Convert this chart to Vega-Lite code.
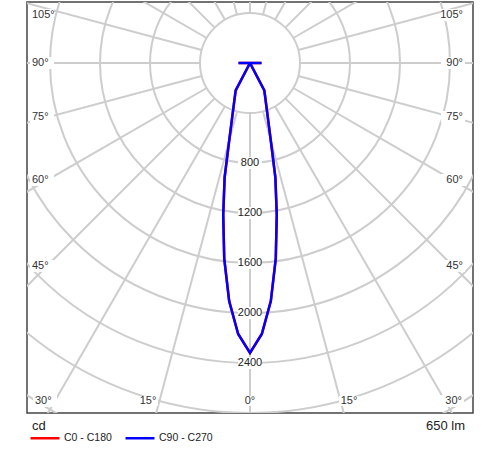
{
  "$schema": "https://vega.github.io/schema/vega-lite/v6.json",
  "width": 446,
  "height": 411,
  "autosize": {"type": "none"},
  "padding": {"left": 27, "top": 2, "right": 27, "bottom": 37},
  "background": "white",
  "config": {"view": {"stroke": "#444", "strokeWidth": 1.5}, "font": "Liberation Sans"},
  "datasets": {
    "circles": [{"cd": 400}, {"cd": 800}, {"cd": 1200}, {"cd": 1600}, {"cd": 2000}, {"cd": 2400}, {"cd": 2800}, {"cd": 3200}],
    "rays": [{"a": 0}, {"a": 15}, {"a": 30}, {"a": 45}, {"a": 60}, {"a": 75}, {"a": 90}, {"a": 105}, {"a": 120}, {"a": 135}, {"a": 150}, {"a": 165}, {"a": 180}, {"a": 195}, {"a": 210}, {"a": 225}, {"a": 240}, {"a": 255}, {"a": 270}, {"a": 285}, {"a": 300}, {"a": 315}, {"a": 330}, {"a": 345}],
    "cdLabels": [{"label": "800", "x": 0, "y": 800}, {"label": "1200", "x": 0, "y": 1200}, {"label": "1600", "x": 0, "y": 1600}, {"label": "2000", "x": 0, "y": 2000}, {"label": "2400", "x": 0, "y": 2400}],
    "leftLabels": [{"label": "105°", "x": -1744, "y": -384}, {"label": "90°", "x": -1744, "y": 0}, {"label": "75°", "x": -1744, "y": 432}, {"label": "60°", "x": -1744, "y": 936}, {"label": "45°", "x": -1744, "y": 1624}, {"label": "30°", "x": -1720, "y": 2704}],
    "rightLabels": [{"label": "105°", "x": 1704, "y": -384}, {"label": "90°", "x": 1704, "y": 0}, {"label": "75°", "x": 1704, "y": 432}, {"label": "60°", "x": 1704, "y": 936}, {"label": "45°", "x": 1704, "y": 1624}, {"label": "30°", "x": 1696, "y": 2704}],
    "bottomLabels": [{"label": "15°", "x": -816, "y": 2704}, {"label": "0°", "x": 0, "y": 2704}, {"label": "15°", "x": 792, "y": 2704}],
    "notesLeft": [{"label": "cd", "x": -1744, "y": 2904}],
    "notesRight": [{"label": "650 lm", "x": 1720, "y": 2904}],
    "curve": [
      {"series": "C0 - C180", "a": -180, "cd": 0}, {"series": "C0 - C180", "a": -95, "cd": 0}, {"series": "C0 - C180", "a": -90, "cd": 92}, {"series": "C0 - C180", "a": -85, "cd": 0}, {"series": "C0 - C180", "a": -30, "cd": 0}, {"series": "C0 - C180", "a": -27.5, "cd": 248}, {"series": "C0 - C180", "a": -25, "cd": 283}, {"series": "C0 - C180", "a": -20, "cd": 392}, {"series": "C0 - C180", "a": -15, "cd": 643}, {"series": "C0 - C180", "a": -12.5, "cd": 938}, {"series": "C0 - C180", "a": -10, "cd": 1233}, {"series": "C0 - C180", "a": -7.5, "cd": 1579}, {"series": "C0 - C180", "a": -5, "cd": 1912}, {"series": "C0 - C180", "a": -2.5, "cd": 2170}, {"series": "C0 - C180", "a": 0, "cd": 2320},
      {"series": "C0 - C180", "a": 2.5, "cd": 2170}, {"series": "C0 - C180", "a": 5, "cd": 1912}, {"series": "C0 - C180", "a": 7.5, "cd": 1579}, {"series": "C0 - C180", "a": 10, "cd": 1233}, {"series": "C0 - C180", "a": 12.5, "cd": 938}, {"series": "C0 - C180", "a": 15, "cd": 643}, {"series": "C0 - C180", "a": 20, "cd": 392}, {"series": "C0 - C180", "a": 25, "cd": 283}, {"series": "C0 - C180", "a": 27.5, "cd": 248}, {"series": "C0 - C180", "a": 30, "cd": 0}, {"series": "C0 - C180", "a": 85, "cd": 0}, {"series": "C0 - C180", "a": 90, "cd": 92}, {"series": "C0 - C180", "a": 95, "cd": 0}, {"series": "C0 - C180", "a": 180, "cd": 0},
      {"series": "C90 - C270", "a": -180, "cd": 0}, {"series": "C90 - C270", "a": -95, "cd": 0}, {"series": "C90 - C270", "a": -90, "cd": 92}, {"series": "C90 - C270", "a": -85, "cd": 0}, {"series": "C90 - C270", "a": -30, "cd": 0}, {"series": "C90 - C270", "a": -27.5, "cd": 248}, {"series": "C90 - C270", "a": -25, "cd": 283}, {"series": "C90 - C270", "a": -20, "cd": 392}, {"series": "C90 - C270", "a": -15, "cd": 643}, {"series": "C90 - C270", "a": -12.5, "cd": 938}, {"series": "C90 - C270", "a": -10, "cd": 1233}, {"series": "C90 - C270", "a": -7.5, "cd": 1579}, {"series": "C90 - C270", "a": -5, "cd": 1912}, {"series": "C90 - C270", "a": -2.5, "cd": 2170}, {"series": "C90 - C270", "a": 0, "cd": 2320},
      {"series": "C90 - C270", "a": 2.5, "cd": 2170}, {"series": "C90 - C270", "a": 5, "cd": 1912}, {"series": "C90 - C270", "a": 7.5, "cd": 1579}, {"series": "C90 - C270", "a": 10, "cd": 1233}, {"series": "C90 - C270", "a": 12.5, "cd": 938}, {"series": "C90 - C270", "a": 15, "cd": 643}, {"series": "C90 - C270", "a": 20, "cd": 392}, {"series": "C90 - C270", "a": 25, "cd": 283}, {"series": "C90 - C270", "a": 27.5, "cd": 248}, {"series": "C90 - C270", "a": 30, "cd": 0}, {"series": "C90 - C270", "a": 85, "cd": 0}, {"series": "C90 - C270", "a": 90, "cd": 92}, {"series": "C90 - C270", "a": 95, "cd": 0}, {"series": "C90 - C270", "a": 180, "cd": 0}
    ]
  },
  "encoding": {
    "x": {"field": "x", "type": "quantitative", "scale": {"domain": [-1784, 1784], "nice": false, "zero": false}, "axis": null},
    "y": {"field": "y", "type": "quantitative", "scale": {"domain": [-488, 2800], "nice": false, "zero": false, "reverse": true}, "axis": null}
  },
  "layer": [
    {
      "data": {"name": "circles"},
      "transform": [
        {"calculate": "0", "as": "x"},
        {"calculate": "0", "as": "y"},
        {"calculate": "pow(datum.cd / 4, 2)", "as": "s"}
      ],
      "mark": {"type": "point", "shape": "circle", "filled": false, "stroke": "#cdcdcd", "strokeWidth": 2, "opacity": 1, "clip": true},
      "encoding": {
        "size": {"field": "s", "type": "quantitative", "scale": null, "legend": null}
      }
    },
    {
      "data": {"name": "rays"},
      "transform": [
        {"calculate": "400 * sin(datum.a * PI / 180)", "as": "x"},
        {"calculate": "400 * cos(datum.a * PI / 180)", "as": "y"},
        {"calculate": "3600 * sin(datum.a * PI / 180)", "as": "x2"},
        {"calculate": "3600 * cos(datum.a * PI / 180)", "as": "y2"}
      ],
      "mark": {"type": "rule", "stroke": "#cdcdcd", "strokeWidth": 2, "clip": true},
      "encoding": {
        "x2": {"field": "x2"},
        "y2": {"field": "y2"}
      }
    },
    {
      "data": {"name": "cdLabels"},
      "mark": {"type": "point", "shape": "M-1,-0.5H1V0.5H-1Z", "filled": true, "fill": "white", "opacity": 1, "size": 576, "strokeWidth": 0},
      "encoding": {}
    },
    {
      "data": {"name": "leftLabels"},
      "mark": {"type": "point", "shape": "M-1,-0.5H1V0.5H-1Z", "filled": true, "fill": "white", "opacity": 1, "size": 576, "strokeWidth": 0, "xOffset": 10},
      "encoding": {}
    },
    {
      "data": {"name": "rightLabels"},
      "mark": {"type": "point", "shape": "M-1,-0.5H1V0.5H-1Z", "filled": true, "fill": "white", "opacity": 1, "size": 576, "strokeWidth": 0, "xOffset": -10},
      "encoding": {}
    },
    {
      "data": {"name": "bottomLabels"},
      "mark": {"type": "point", "shape": "M-1,-0.5H1V0.5H-1Z", "filled": true, "fill": "white", "opacity": 1, "size": 400, "strokeWidth": 0},
      "encoding": {}
    },
    {
      "data": {"name": "cdLabels"},
      "mark": {"type": "text", "align": "center", "baseline": "middle", "fontSize": 11, "color": "#222", "font": "Liberation Sans"},
      "encoding": {"text": {"field": "label"}}
    },
    {
      "data": {"name": "leftLabels"},
      "mark": {"type": "text", "align": "left", "baseline": "middle", "fontSize": 11, "color": "#333", "font": "Liberation Sans"},
      "encoding": {"text": {"field": "label"}}
    },
    {
      "data": {"name": "rightLabels"},
      "mark": {"type": "text", "align": "right", "baseline": "middle", "fontSize": 11, "color": "#333", "font": "Liberation Sans"},
      "encoding": {"text": {"field": "label"}}
    },
    {
      "data": {"name": "bottomLabels"},
      "mark": {"type": "text", "align": "center", "baseline": "middle", "fontSize": 11, "color": "#333", "font": "Liberation Sans"},
      "encoding": {"text": {"field": "label"}}
    },
    {
      "data": {"name": "notesLeft"},
      "mark": {"type": "text", "align": "left", "baseline": "middle", "fontSize": 13, "color": "#222", "font": "Liberation Sans"},
      "encoding": {"text": {"field": "label"}}
    },
    {
      "data": {"name": "notesRight"},
      "mark": {"type": "text", "align": "right", "baseline": "middle", "fontSize": 13, "color": "#222", "font": "Liberation Sans"},
      "encoding": {"text": {"field": "label"}}
    },
    {
      "data": {"name": "curve"},
      "transform": [
        {"calculate": "datum.cd * sin(datum.a * PI / 180)", "as": "x"},
        {"calculate": "datum.cd * cos(datum.a * PI / 180)", "as": "y"}
      ],
      "mark": {"type": "line", "strokeWidth": 2.5, "clip": true},
      "encoding": {
        "order": {"field": "a", "type": "quantitative"},
        "color": {
          "field": "series", "type": "nominal",
          "scale": {"domain": ["C0 - C180", "C90 - C270"], "range": ["#ff0000", "#0000ff"]},
          "legend": {"title": null, "orient": "none", "legendX": 2, "legendY": 420, "direction": "horizontal", "symbolType": "stroke", "symbolSize": 841, "symbolStrokeWidth": 2.5, "labelFontSize": 10.5, "labelFont": "Liberation Sans", "columnPadding": 8, "padding": 0, "labelColor": "#222", "labelOffset": 3}
        }
      }
    }
  ]
}
